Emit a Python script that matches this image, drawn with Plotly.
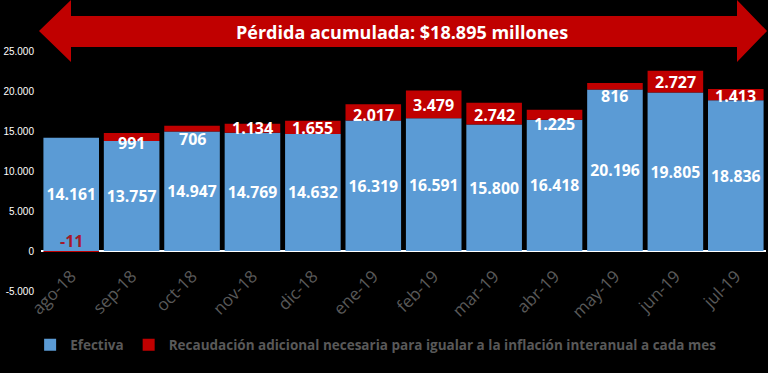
import plotly.graph_objects as go

# ---- data ----
months = ["ago-18", "sep-18", "oct-18", "nov-18", "dic-18", "ene-19",
          "feb-19", "mar-19", "abr-19", "may-19", "jun-19", "jul-19"]
efectiva = [14161, 13757, 14947, 14769, 14632, 16319,
            16591, 15800, 16418, 20196, 19805, 18836]
adicional = [-11, 991, 706, 1134, 1655, 2017,
             3479, 2742, 1225, 816, 2727, 1413]
y_tick_vals = [-5000, 0, 5000, 10000, 15000, 20000, 25000]
y_tick_text = ["-5.000", "0", "5.000", "10.000", "15.000", "20.000", "25.000"]
series_names = ["Efectiva",
                "Recaudación adicional necesaria para igualar a la inflación interanual a cada mes"]
title_text = "Pérdida acumulada: $18.895 millones"

# label vertical nudges (px, downward) for the red-segment labels
label_shift_px = [0, 6, 10, 0, 1, 3, 1, 1.5, 9, 10, 0, 1.5]

BLUE = "#5B9BD5"
RED = "#C00000"
GREY = "#595959"

W, H = 768, 373
L, R, T, B = 41, 2, 51, 82
PW, PH = W - L - R, H - T - B
Y_RANGE = [-5000, 25000]


def px(x, y):
    return (x - L) / PW, 1 - (y - T) / PH


def fmt(v):
    s = f"{abs(v):,}".replace(",", ".")
    return ("-" if v < 0 else "") + s


fig = go.Figure()
fig.add_trace(go.Bar(
    x=months, y=efectiva, name=series_names[0],
    marker=dict(color=BLUE, line=dict(width=0)),
    text=[fmt(v) for v in efectiva], textposition="inside",
    insidetextanchor="middle", textangle=0,
    textfont=dict(family="Open Sans", size=16, color="white", weight="bold"),
))
fig.add_trace(go.Bar(
    x=months, y=adicional, name=series_names[1],
    marker=dict(color=RED, line=dict(width=0)),
))

annotations = []
for i, (m, e, a) in enumerate(zip(months, efectiva, adicional)):
    if a < 0:
        annotations.append(dict(
            x=m, y=0, xref="x", yref="y", text=fmt(a), showarrow=False,
            yanchor="bottom", yshift=-3,
            font=dict(family="Open Sans", size=16, color="#A5182A", weight="bold")))
    else:
        annotations.append(dict(
            x=m, y=e + a / 2, xref="x", yref="y", text=fmt(a), showarrow=False,
            yanchor="middle", yshift=-label_shift_px[i],
            font=dict(family="Open Sans", size=16, color="white", weight="bold")))

tx, ty = px(402, 32)
annotations.append(dict(
    x=tx, y=ty, xref="paper", yref="paper", text=title_text, showarrow=False,
    xanchor="center", yanchor="middle",
    font=dict(family="Open Sans", size=18, color="white", weight="bold")))

# double-headed arrow decoration
pts = [(39, 31), (71, 0), (71, 16), (737, 16), (737, 0), (767, 31),
       (737, 62), (737, 47), (71, 47), (71, 62)]
path = "M " + " L ".join(f"{px(x, y)[0]:.5f},{px(x, y)[1]:.5f}" for x, y in pts) + " Z"

# x axis crosses the value axis at zero (as in the original)
zero_pos = (0 - Y_RANGE[0]) / (Y_RANGE[1] - Y_RANGE[0])

fig.update_layout(
    width=W, height=H,
    margin=dict(l=L, r=R, t=T, b=B),
    paper_bgcolor="black", plot_bgcolor="black",
    barmode="relative", bargap=0.08,
    separators=",.",
    showlegend=True,
    legend=dict(orientation="h", x=-0.015, xanchor="left", y=-0.225, yanchor="middle",
                font=dict(family="Open Sans", size=13.5, color=GREY, weight="bold"),
                bgcolor="rgba(0,0,0,0)", traceorder="normal"),
    shapes=[dict(type="path", xref="paper", yref="paper", path=path,
                 fillcolor=RED, line=dict(width=0), layer="below")],
    annotations=annotations,
    xaxis=dict(showgrid=False, zeroline=False, showline=False, tickangle=-45,
               anchor="free", position=zero_pos, ticklabelstandoff=11,
               tickfont=dict(family="Open Sans", size=17, color=GREY),
               ticks="", automargin=False),
    yaxis=dict(range=Y_RANGE, tickvals=y_tick_vals, ticktext=y_tick_text,
               showgrid=False, zeroline=True, zerolinecolor="white", zerolinewidth=1.5,
               tickfont=dict(family="Liberation Sans", size=10, color="white"),
               ticks="outside", ticklen=4, tickcolor="black", automargin=False),
)

fig.write_html(
    "out.html",
    config={"displayModeBar": False},
    post_script="document.body.style.margin='0';document.body.style.background='black';",
)
